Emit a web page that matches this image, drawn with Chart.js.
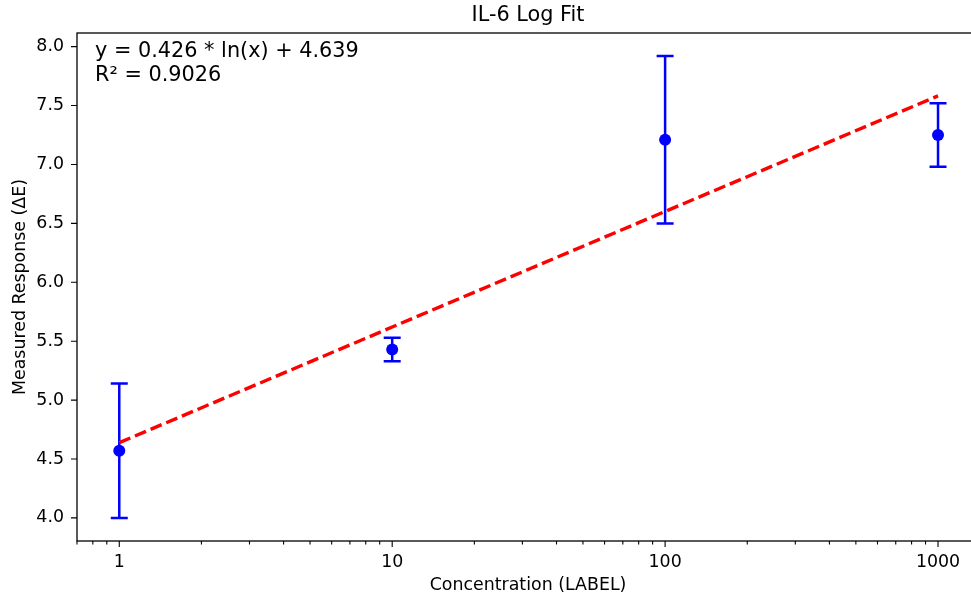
<!DOCTYPE html>
<html>
<head>
<meta charset="utf-8">
<script src="https://cdn.jsdelivr.net/npm/chart.js@4.4.1/dist/chart.umd.min.js"></script>
<style>
  html, body { margin: 0; padding: 0; background: #fff; overflow: hidden; }
  #wrap { width: 990px; height: 601px; }
</style>
</head>
<body>
<div id="wrap"><canvas id="myChart" width="990" height="601"></canvas></div>
<script>
// data
const concentrations = [1, 10, 100, 1000]
const meanResponse = [4.57, 5.43, 7.21, 7.25]
const responseErr = [0.57, 0.10, 0.71, 0.27]
const fitResponse = [4.639, 5.62, 6.601, 7.582]
const yTicks = [4.0, 4.5, 5.0, 5.5, 6.0, 6.5, 7.0, 7.5, 8.0]

const titleText = "IL-6 Log Fit"
const xTitle = "Concentration (LABEL)"
const yTitle = "Measured Response (ΔE)"
const fitLines = ["y = 0.426 * ln(x) + 4.639", "R² = 0.9026"]

const FONT = "'DejaVu Sans', sans-serif"
var ctx = document.getElementById('myChart').getContext('2d');

function isPow10(v){
    const l = Math.log10(v)
    return Math.abs(l - Math.round(l)) < 1e-6
}

// error bars, spines, ticks and the text bits matplotlib puts around the axes
const extras = {
    id: "extras",
    beforeDatasetsDraw(chart){
        const c = chart.ctx
        const xs = chart.scales.x, ys = chart.scales.y
        c.save()
        c.strokeStyle = "#0000ff"
        c.lineWidth = 2.5
        concentrations.forEach((x, i) => {
            const px = xs.getPixelForValue(x)
            const top = ys.getPixelForValue(meanResponse[i] + responseErr[i])
            const bot = ys.getPixelForValue(meanResponse[i] - responseErr[i])
            c.beginPath()
            c.moveTo(px, top); c.lineTo(px, bot)
            c.moveTo(px - 8.5, top); c.lineTo(px + 8.5, top)
            c.moveTo(px - 8.5, bot); c.lineTo(px + 8.5, bot)
            c.stroke()
        })
        c.restore()
    },
    afterDraw(chart){
        const c = chart.ctx
        const a = chart.chartArea
        const xs = chart.scales.x, ys = chart.scales.y
        c.save()
        // spines
        c.strokeStyle = "#000"
        c.lineWidth = 1.3
        c.strokeRect(a.left, a.top, a.right - a.left, a.bottom - a.top)
        // tick marks
        c.lineWidth = 1.1
        c.beginPath()
        xs.ticks.forEach(t => {
            const px = xs.getPixelForValue(t.value)
            const len = isPow10(t.value) ? 6 : 3.5
            c.moveTo(px, a.bottom); c.lineTo(px, a.bottom + len)
        })
        ys.ticks.forEach(t => {
            const py = ys.getPixelForValue(t.value)
            c.moveTo(a.left, py); c.lineTo(a.left - 6, py)
        })
        c.stroke()

        c.fillStyle = "#000"
        // title
        c.font = "20.8px " + FONT
        c.textAlign = "center"
        c.textBaseline = "middle"
        c.fillText(titleText, (a.left + a.right) / 2, 16)
        // axis titles
        c.font = "17.4px " + FONT
        c.fillText(xTitle, (a.left + a.right) / 2, 585)
        c.save()
        c.translate(20, (a.top + a.bottom) / 2)
        c.rotate(-Math.PI / 2)
        c.fillText(yTitle, 0, 0)
        c.restore()
        // fit annotation
        c.font = "20.8px " + FONT
        c.textAlign = "left"
        c.textBaseline = "top"
        fitLines.forEach((s, i) => c.fillText(s, a.left + 18, a.top + 8 + i * 24.5))
        c.restore()
    }
}

let myChart = new Chart(ctx, {
    type: 'scatter',
    data: {
        datasets: [{
            type: 'line',
            label: 'fit',
            data: concentrations.map((x, i) => ({x: x, y: fitResponse[i]})),
            borderColor: '#ff0000',
            borderWidth: 3.4,
            borderDash: [12, 5],
            pointRadius: 0,
            fill: false,
            tension: 0
        }, {
            label: 'mean',
            data: concentrations.map((x, i) => ({x: x, y: meanResponse[i]})),
            backgroundColor: '#0000ff',
            borderColor: '#0000ff',
            borderWidth: 0,
            pointRadius: 6
        }]
    },
    options: {
        responsive: false,
        animation: false,
        devicePixelRatio: 1,
        layout: { padding: { left: 0, top: 33, right: 11, bottom: 0 } },
        plugins: {
            legend: { display: false },
            tooltip: { enabled: false },
            title: { display: false }
        },
        scales: {
            x: {
                type: 'logarithmic',
                min: 0.708,
                max: 1413,
                afterFit: s => { s.height = 60 },
                afterBuildTicks: s => {
                    s.ticks = s.ticks.filter(t => {
                        const p = Math.pow(10, Math.floor(Math.log10(t.value) + 1e-9))
                        const m = t.value / p
                        return Math.abs(m - Math.round(m)) < 1e-6
                    })
                },
                grid: { display: true, drawOnChartArea: false, drawTicks: true, tickLength: 6, color: 'rgba(0,0,0,0)' },
                border: { display: false },
                ticks: {
                    autoSkip: false,
                    maxRotation: 0,
                    padding: 5,
                    color: '#000',
                    font: { family: FONT, size: 17.4 },
                    callback: v => isPow10(v) ? String(Math.round(v)) : ''
                }
            },
            y: {
                min: 3.804,
                max: 8.116,
                afterFit: s => { s.width = 77 },
                afterBuildTicks: s => { s.ticks = yTicks.map(v => ({value: v})) },
                grid: { display: true, drawOnChartArea: false, drawTicks: true, tickLength: 6, color: 'rgba(0,0,0,0)' },
                border: { display: false },
                ticks: {
                    padding: 7,
                    color: '#000',
                    font: { family: FONT, size: 17.4 },
                    callback: v => v.toFixed(1)
                }
            }
        }
    },
    plugins: [extras]
});
</script>
</body>
</html>
